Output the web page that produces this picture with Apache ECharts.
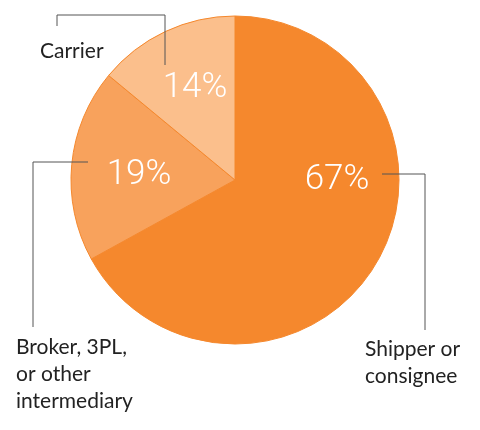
<!DOCTYPE html>
<html>
<head>
<meta charset="utf-8">
<script src="https://cdn.jsdelivr.net/npm/echarts@6/dist/echarts.min.js"></script>
<style>
html,body{margin:0;padding:0;background:#fff;}
#chart{width:480px;height:430px;}
</style>
</head>
<body>
<div id="chart"></div>
<script>
var categories = ['Shipper or\nconsignee', 'Broker, 3PL,\nor other\nintermediary', 'Carrier'];
var values = [67, 19, 14];
var sliceColors = ['#F5882D', '#F8A25C', '#FBBF8C'];

var CX = 235, CY = 180, R = 164;

var innerPos = [[337, 180], [139, 175], [195, 88]];
var outerLayout = [
  {x: 365, y: 336, align: 'left', verticalAlign: 'top',
   pts: [[382, 174], [425, 174], [425, 330]]},
  {x: 16, y: 334, align: 'left', verticalAlign: 'top',
   pts: [[88, 162], [33, 162], [33, 327]]},
  {x: 40, y: 51, align: 'left', verticalAlign: 'middle',
   pts: [[165, 65], [165, 15], [57, 15], [57, 26]]}
];

var pieData = categories.map(function (c, i) {
  return {name: c, value: values[i], itemStyle: {color: sliceColors[i]}};
});

var chart = echarts.init(document.getElementById('chart'), null, {renderer: 'canvas'});
chart.setOption({
  animation: false,
  backgroundColor: '#fff',
  series: [
    {
      type: 'pie',
      z: 2,
      center: [CX, CY],
      radius: R,
      startAngle: 90,
      clockwise: true,
      data: pieData,
      itemStyle: {borderColor: '#F5882D', borderWidth: 1},
      emphasis: {disabled: true},
      label: {show: false},
      labelLine: {show: false}
    },
    {
      type: 'pie',
      z: 5,
      center: [CX, CY],
      radius: R,
      startAngle: 90,
      clockwise: true,
      silent: true,
      data: pieData.map(function (d) {
        return {name: d.name, value: d.value, itemStyle: {color: 'rgba(0,0,0,0)'}};
      }),
      emphasis: {disabled: true},
      label: {
        show: true,
        position: 'outside',
        formatter: '{b}',
        color: '#222',
        fontSize: 21,
        lineHeight: 27,
        overflow: 'none',
        width: 200,
        fontFamily: 'Lato, sans-serif'
      },
      labelLine: {show: true, lineStyle: {color: '#555', width: 1}},
      labelLayout: function (p) {
        var o = outerLayout[p.dataIndex];
        return {x: o.x, y: o.y, align: o.align, verticalAlign: o.verticalAlign, labelLinePoints: o.pts};
      }
    },
    {
      type: 'pie',
      z: 6,
      center: [CX, CY],
      radius: R,
      startAngle: 90,
      clockwise: true,
      silent: true,
      data: pieData.map(function (d) {
        return {name: d.name, value: d.value, itemStyle: {color: 'rgba(0,0,0,0)'}};
      }),
      emphasis: {disabled: true},
      label: {
        show: true,
        position: 'inside',
        formatter: '{c}%',
        color: '#fff',
        fontSize: 35,
        fontWeight: 300,
        fontFamily: 'Roboto, sans-serif'
      },
      labelLine: {show: false},
      labelLayout: function (p) {
        var q = innerPos[p.dataIndex];
        return {x: q[0], y: q[1], align: 'center', verticalAlign: 'middle'};
      }
    }
  ]
});
</script>
</body>
</html>
